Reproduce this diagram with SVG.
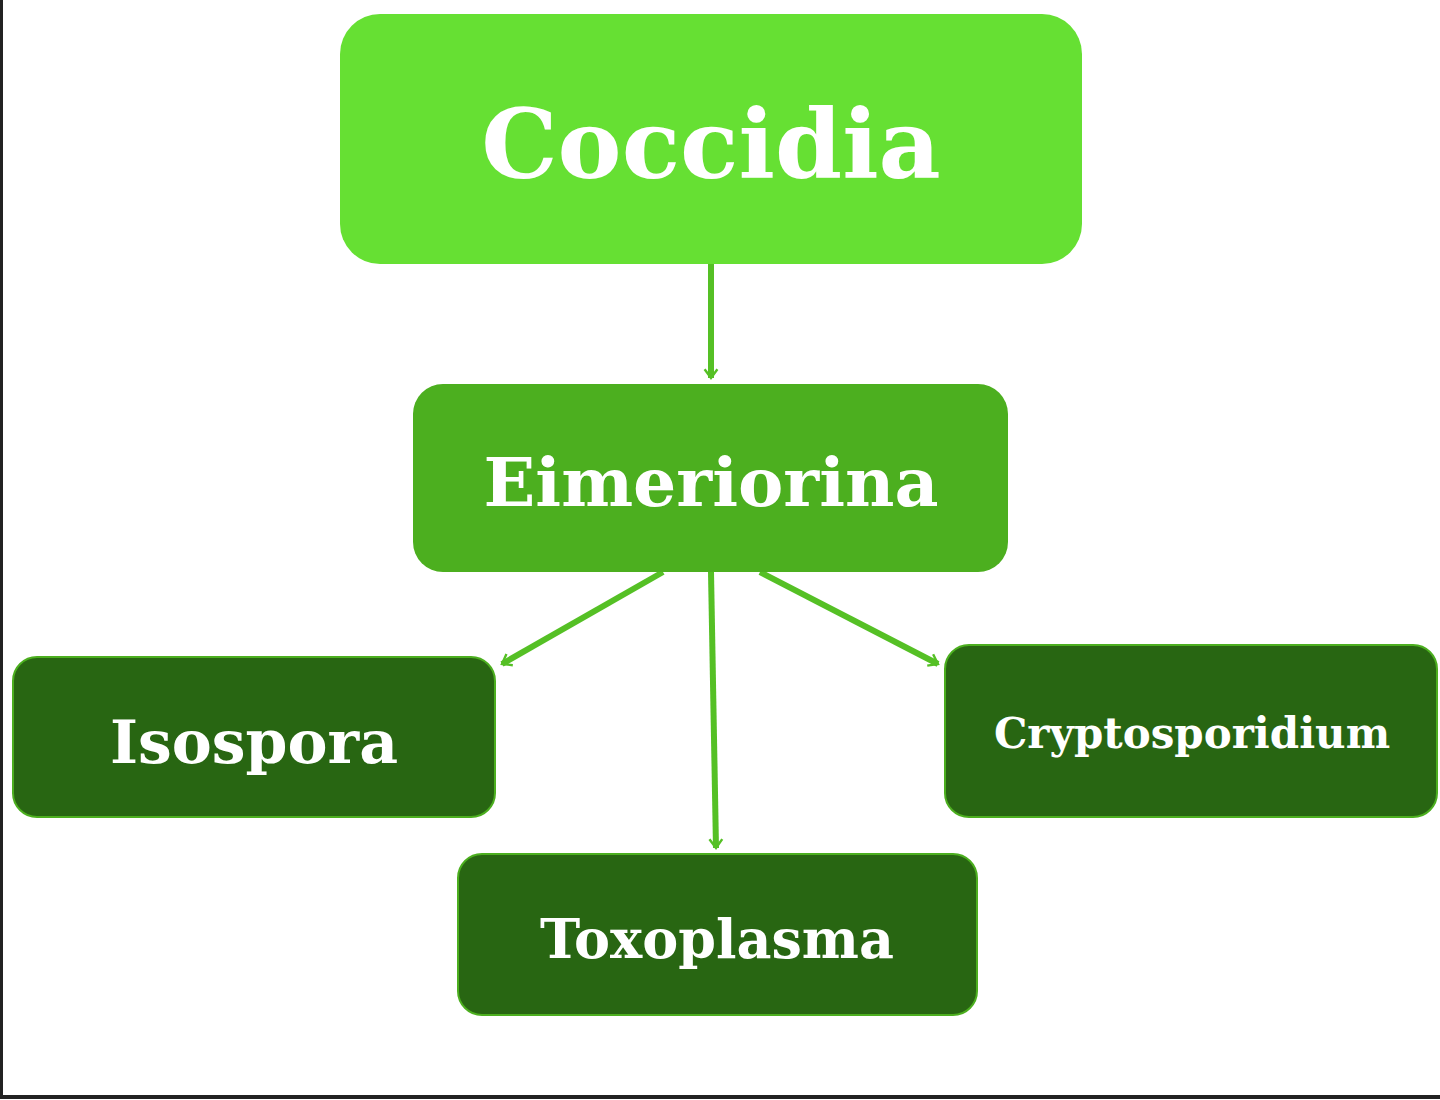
<svg xmlns="http://www.w3.org/2000/svg" width="1440" height="1100" viewBox="0 0 1440 1100">
<defs>
<marker id="ah" viewBox="0 0 20 20" refX="18" refY="10" markerWidth="8" markerHeight="8" markerUnits="userSpaceOnUse" orient="auto" style="overflow:visible">
<path d="M-4,-6 L18,10 L-4,26" fill="none" stroke="#55c025" stroke-width="6" stroke-linejoin="miter"/>
</marker>
<style>
text{font-family:"DejaVu Serif","Liberation Serif",serif;font-weight:bold;fill:#fff;text-anchor:middle}
.c{stroke:#55c025;stroke-width:6;fill:none;marker-end:url(#ah)}
</style>
</defs>
<rect width="1440" height="1100" fill="#fff"/>
<line x1="1.5" y1="0" x2="1.5" y2="1097" stroke="#222" stroke-width="3"/>
<line x1="0" y1="1097" x2="1440" y2="1097" stroke="#222" stroke-width="4"/>
<g id="connectors">
<line class="c" x1="711" y1="264" x2="711" y2="378"/>
<line class="c" x1="663" y1="572" x2="502" y2="664"/>
<line class="c" x1="711" y1="572" x2="716" y2="848"/>
<line class="c" x1="760" y1="572" x2="938" y2="664"/>
</g>
<g id="coccidia"><rect x="340" y="14" width="742" height="250" rx="40" fill="#66e033"/><text x="711" y="178" font-size="96">Coccidia</text></g>
<g id="eimeriorina"><rect x="413" y="384" width="595" height="188" rx="30" fill="#4caf1f"/><text x="711" y="506" font-size="68">Eimeriorina</text></g>
<g id="isospora"><rect x="13" y="657" width="482" height="160" rx="24" fill="#286612" stroke="#4caf1f" stroke-width="2"/><text x="254" y="763" font-size="60">Isospora</text></g>
<g id="cryptosporidium"><rect x="945" y="645" width="492" height="172" rx="24" fill="#286612" stroke="#4caf1f" stroke-width="2"/><text x="1192" y="748" font-size="42">Cryptosporidium</text></g>
<g id="toxoplasma"><rect x="458" y="854" width="519" height="161" rx="24" fill="#286612" stroke="#4caf1f" stroke-width="2"/><text x="717" y="958" font-size="54">Toxoplasma</text></g>
</svg>
